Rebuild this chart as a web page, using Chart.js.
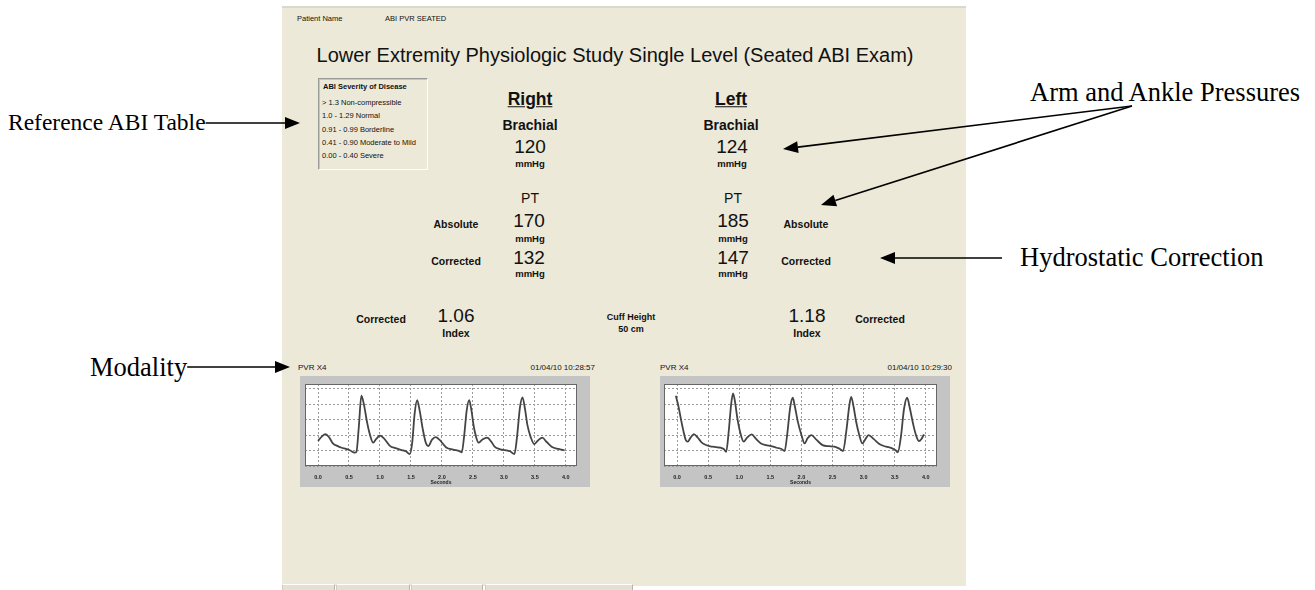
<!DOCTYPE html>
<html><head><meta charset="utf-8">
<script src="https://cdn.jsdelivr.net/npm/chart.js@4.4.1/dist/chart.umd.min.js"></script>
<style>
html,body{margin:0;padding:0;background:#fff;width:1315px;height:590px;overflow:hidden;}
#page{position:relative;width:1315px;height:590px;font-family:"Liberation Sans",Arial,sans-serif;color:#111;}
.t{position:absolute;white-space:nowrap;transform:translate(-50%,-50%);line-height:1;}
.l{position:absolute;white-space:nowrap;transform:translate(0,-50%);line-height:1;}
.r{position:absolute;white-space:nowrap;transform:translate(-100%,-50%);line-height:1;}
#panel{position:absolute;left:282px;top:6px;width:684px;height:578px;background:#ece9d8;border-top:2px solid #dcd9cc;}
.ann{font-family:"Liberation Serif","Times New Roman",serif;font-size:26.5px;color:#000;}
.b{font-weight:bold;}
.box{position:absolute;background:#c4c4c4;}
#abi{position:absolute;left:318px;top:78px;width:108px;height:90px;border-top:1px solid #9a9a9a;border-left:1px solid #9a9a9a;border-right:1px solid #fff;border-bottom:1px solid #fff;box-shadow:inset 1px 1px 0 #c8c5b8;}
.sm{font-size:7.5px;}
.status{position:absolute;top:584px;height:6px;border-top:1px solid #fff;border-left:1px solid #d0cdc0;border-right:1px solid #b8b5a8;background:#e4e1d4;}
svg{position:absolute;left:0;top:0;}
</style></head>
<body><div id="page">
<div id="panel"></div>
<div class="status" style="left:282px;width:51px"></div>
<div class="status" style="left:336px;width:72px"></div>
<div class="status" style="left:411px;width:70px"></div>
<div class="status" style="left:485px;width:146px"></div>

<div class="l" style="left:297px;top:19px;font-size:7.5px">Patient Name</div>
<div class="l" style="left:385px;top:19px;font-size:7.5px">ABI PVR SEATED</div>
<div class="t" style="left:615px;top:55px;font-size:20px">Lower Extremity Physiologic Study Single Level (Seated ABI Exam)</div>

<div id="abi"></div>
<div class="l b sm" style="left:323px;top:87px" id="abiTitle"></div>
<div id="abiRows"></div>

<div class="t b" style="left:530px;top:100px;font-size:17.5px;text-decoration:underline" id="hR"></div>
<div class="t b" style="left:731px;top:100px;font-size:17.5px;text-decoration:underline" id="hL"></div>
<div class="t b" style="left:530px;top:125px;font-size:14px">Brachial</div>
<div class="t b" style="left:731px;top:125px;font-size:14px">Brachial</div>
<div class="t" style="left:530px;top:146px;font-size:19px" id="brR"></div>
<div class="t" style="left:732px;top:146px;font-size:19px" id="brL"></div>
<div class="t b" style="left:530px;top:164px;font-size:9.5px">mmHg</div>
<div class="t b" style="left:732px;top:164px;font-size:9.5px">mmHg</div>

<div class="t" style="left:530px;top:198px;font-size:14px">PT</div>
<div class="t" style="left:733px;top:198px;font-size:14px">PT</div>
<div class="t b" style="left:456px;top:224px;font-size:10.5px">Absolute</div>
<div class="t b" style="left:806px;top:224px;font-size:10.5px">Absolute</div>
<div class="t" style="left:529px;top:220px;font-size:19px" id="absR"></div>
<div class="t" style="left:733px;top:220px;font-size:19px" id="absL"></div>
<div class="t b" style="left:530px;top:239px;font-size:9.5px">mmHg</div>
<div class="t b" style="left:733px;top:239px;font-size:9.5px">mmHg</div>
<div class="t b" style="left:456px;top:261px;font-size:10.5px">Corrected</div>
<div class="t b" style="left:806px;top:261px;font-size:10.5px">Corrected</div>
<div class="t" style="left:529px;top:257px;font-size:19px" id="corR"></div>
<div class="t" style="left:733px;top:257px;font-size:19px" id="corL"></div>
<div class="t b" style="left:530px;top:274px;font-size:9.5px">mmHg</div>
<div class="t b" style="left:733px;top:274px;font-size:9.5px">mmHg</div>

<div class="t b" style="left:381px;top:319px;font-size:10.5px">Corrected</div>
<div class="t" style="left:456px;top:315px;font-size:19px" id="idxR"></div>
<div class="t b" style="left:456px;top:333px;font-size:10.5px">Index</div>
<div class="t b" style="left:631px;top:317px;font-size:9px">Cuff Height</div>
<div class="t b" style="left:631px;top:329px;font-size:9px" id="cuff"></div>
<div class="t" style="left:807px;top:315px;font-size:19px" id="idxL"></div>
<div class="t b" style="left:807px;top:333px;font-size:10.5px">Index</div>
<div class="t b" style="left:880px;top:319px;font-size:10.5px">Corrected</div>

<div class="l" style="left:298px;top:368px;font-size:8px">PVR X4</div>
<div class="r" style="left:595px;top:368px;font-size:8px" id="tsR"></div>
<div class="l" style="left:660px;top:368px;font-size:8px">PVR X4</div>
<div class="r" style="left:952px;top:368px;font-size:8px" id="tsL"></div>

<div class="box" style="left:300px;top:376px;width:290px;height:111px"></div>
<div class="box" style="left:660px;top:376px;width:290px;height:111px"></div>
<canvas id="c1" width="290" height="111" style="position:absolute;left:300px;top:376px"></canvas>
<canvas id="c2" width="290" height="111" style="position:absolute;left:660px;top:376px"></canvas>

<div class="l ann" id="aRef" style="left:8px;top:123px;font-size:23.5px">Reference ABI Table</div>
<div class="l ann" id="aArm" style="left:1030px;top:92px">Arm and Ankle Pressures</div>
<div class="l ann" id="aHyd" style="left:1020px;top:257px">Hydrostatic Correction</div>
<div class="l ann" id="aMod" style="left:90px;top:367px">Modality</div>
<svg id="arrows" width="1315" height="590"></svg>
</div>
<script>
// ---------- data ----------
const abiTitle = "ABI Severity of Disease";
const abiRanges = ["> 1.3 Non-compressible","1.0 - 1.29 Normal","0.91 - 0.99 Borderline","0.41 - 0.90 Moderate to Mild","0.00 - 0.40  Severe"];
const sides = ["Right","Left"];
const brachial = [120,124];
const ptAbsolute = [170,185];
const ptCorrected = [132,147];
const abiIndex = ["1.06","1.18"];
const cuffHeight = "50 cm";
const timestamps = ["01/04/10 10:28:57","01/04/10 10:29:30"];
const secondsTicks = [0.0,0.5,1.0,1.5,2.0,2.5,3.0,3.5,4.0];
const ampTicks = [0,1,2,3,4,5];

const rightTime = [0.00,0.06,0.12,0.18,0.24,0.31,0.38,0.45,0.52,0.59,0.62,0.66,0.70,0.74,0.79,0.84,0.89,0.94,1.00,1.06,1.16,1.25,1.35,1.42,1.48,1.52,1.56,1.60,1.64,1.69,1.74,1.78,1.84,1.90,1.96,2.07,2.18,2.29,2.32,2.36,2.40,2.44,2.48,2.51,2.55,2.59,2.65,2.73,2.80,2.85,2.94,3.02,3.10,3.17,3.21,3.26,3.30,3.34,3.38,3.43,3.49,3.55,3.62,3.69,3.77,3.88,3.98];
const rightAmp  = [1.62,1.90,2.06,1.85,1.46,1.30,1.18,1.10,1.00,0.86,0.92,2.60,4.55,4.00,2.86,2.00,1.51,1.75,1.96,1.80,1.30,1.15,1.03,0.95,0.77,1.50,3.40,4.26,3.60,2.40,1.50,1.29,1.70,1.87,1.70,1.20,1.06,0.95,0.88,2.00,3.60,4.26,3.50,2.64,1.90,1.51,1.70,1.83,1.55,1.25,1.08,1.03,0.95,0.77,1.80,3.80,4.43,3.70,2.64,1.90,1.42,1.65,1.83,1.55,1.25,1.10,1.01];

const leftTime = [-0.02,0.02,0.06,0.10,0.14,0.17,0.22,0.27,0.33,0.39,0.44,0.52,0.57,0.65,0.70,0.75,0.79,0.83,0.87,0.90,0.93,0.97,1.02,1.07,1.13,1.20,1.27,1.35,1.43,1.51,1.60,1.68,1.73,1.77,1.82,1.86,1.89,1.94,2.00,2.05,2.10,2.16,2.24,2.34,2.44,2.53,2.61,2.67,2.72,2.77,2.80,2.84,2.88,2.93,2.98,3.03,3.08,3.16,3.26,3.36,3.45,3.52,3.55,3.60,3.65,3.70,3.74,3.80,3.85,3.89,3.93,3.97];
const leftAmp  = [4.54,3.90,3.08,2.30,1.68,1.57,1.85,2.06,1.85,1.55,1.40,1.28,1.25,1.20,1.18,1.10,0.92,2.20,4.00,4.69,4.20,3.08,2.10,1.57,1.85,2.04,1.75,1.46,1.35,1.29,1.18,1.10,0.97,2.00,3.80,4.41,3.94,2.90,2.00,1.46,1.80,2.00,1.70,1.35,1.28,1.25,1.12,0.97,2.20,3.90,4.47,3.80,2.86,2.00,1.46,1.75,2.00,1.75,1.40,1.25,1.16,1.00,0.88,1.90,3.70,4.41,3.80,2.64,1.90,1.61,1.75,2.04];

// ---------- text ----------
document.getElementById('abiTitle').textContent = abiTitle;
const rowY = [103,116,130,143,156];
const rowsEl = document.getElementById('abiRows');
abiRanges.forEach((s,i)=>{const d=document.createElement('div');d.className='l sm';d.style.left='322px';d.style.top=rowY[i]+'px';d.textContent=s;rowsEl.appendChild(d);});
document.getElementById('hR').textContent=sides[0];
document.getElementById('hL').textContent=sides[1];
document.getElementById('brR').textContent=brachial[0];
document.getElementById('brL').textContent=brachial[1];
document.getElementById('absR').textContent=ptAbsolute[0];
document.getElementById('absL').textContent=ptAbsolute[1];
document.getElementById('corR').textContent=ptCorrected[0];
document.getElementById('corL').textContent=ptCorrected[1];
document.getElementById('idxR').textContent=abiIndex[0];
document.getElementById('idxL').textContent=abiIndex[1];
document.getElementById('cuff').textContent=cuffHeight;
document.getElementById('tsR').textContent=timestamps[0];
document.getElementById('tsL').textContent=timestamps[1];

// ---------- arrows ----------
const svg = document.getElementById('arrows');
function arrow(x1,y1,x2,y2){
  const ns='http://www.w3.org/2000/svg';
  const dx=x2-x1, dy=y2-y1, L=Math.hypot(dx,dy), ux=dx/L, uy=dy/L;
  const hl=15, hw=6;
  const bx=x2-ux*hl, by=y2-uy*hl;
  const ln=document.createElementNS(ns,'line');
  ln.setAttribute('x1',x1);ln.setAttribute('y1',y1);ln.setAttribute('x2',bx);ln.setAttribute('y2',by);
  ln.setAttribute('stroke','#000');ln.setAttribute('stroke-width','1.6');svg.appendChild(ln);
  const p=document.createElementNS(ns,'polygon');
  p.setAttribute('points',`${x2},${y2} ${bx-uy*hw},${by+ux*hw} ${bx+uy*hw},${by-ux*hw}`);
  p.setAttribute('fill','#000');svg.appendChild(p);
}
function rightEdge(id){const r=document.getElementById(id).getBoundingClientRect();return r.right;}
arrow(rightEdge('aRef'),123,300,123);
arrow(1132,106,783,149);
arrow(1132,106,821,205);
arrow(1002,258,880,258);
arrow(rightEdge('aMod'),367,290,367);

// ---------- charts ----------
const framePlugin = {
  id:'frame',
  beforeDraw(c){const a=c.chartArea,ctx=c.ctx;ctx.save();ctx.fillStyle='#fff';ctx.fillRect(a.left,a.top,a.right-a.left,a.bottom-a.top);ctx.restore();},
  afterDraw(c){const a=c.chartArea,ctx=c.ctx;ctx.save();ctx.strokeStyle='#666';ctx.lineWidth=1;ctx.strokeRect(a.left+0.5,a.top+0.5,a.right-a.left-1,a.bottom-a.top-1);ctx.restore();}
};
function makeChart(id, t, v, padLeft){
  new Chart(document.getElementById(id),{
    type:'line',
    data:{datasets:[{data:t.map((x,i)=>({x:x,y:v[i]})),borderColor:'#444',borderWidth:1.8,pointRadius:0,cubicInterpolationMode:'monotone',fill:false}]},
    options:{
      responsive:false,animation:false,devicePixelRatio:1,
      layout:{padding:{left:padLeft,right:13,top:8,bottom:0}},
      plugins:{legend:{display:false},tooltip:{enabled:false}},
      scales:{
        x:{type:'linear',min:-0.21,max:4.18,
           afterBuildTicks:s=>{s.ticks=secondsTicks.map(x=>({value:x}));},
           afterFit:s=>{s.height=21;},
           grid:{color:'#9a9a9a',lineWidth:1,drawTicks:false},
           border:{display:false,dash:[2,2]},
           ticks:{padding:8,color:'#222',font:{family:'Liberation Sans',size:5.5,weight:'bold'},callback:v=>v.toFixed(1),maxRotation:0,autoSkip:false},
           title:{display:true,text:'Seconds',color:'#222',font:{family:'Liberation Sans',size:5,weight:'bold'},padding:{top:0,bottom:1}}},
        y:{type:'linear',min:0,max:5.3,
           afterBuildTicks:s=>{s.ticks=ampTicks.map(x=>({value:x}));},
           afterFit:s=>{s.width=0;},
           grid:{color:'#9a9a9a',lineWidth:1,drawTicks:false},
           border:{display:false,dash:[2,2]},
           ticks:{display:false}}
      }
    },
    plugins:[framePlugin]
  });
}
makeChart('c1', rightTime, rightAmp, 5);
makeChart('c2', leftTime, leftAmp, 4);
</script>
</body></html>
